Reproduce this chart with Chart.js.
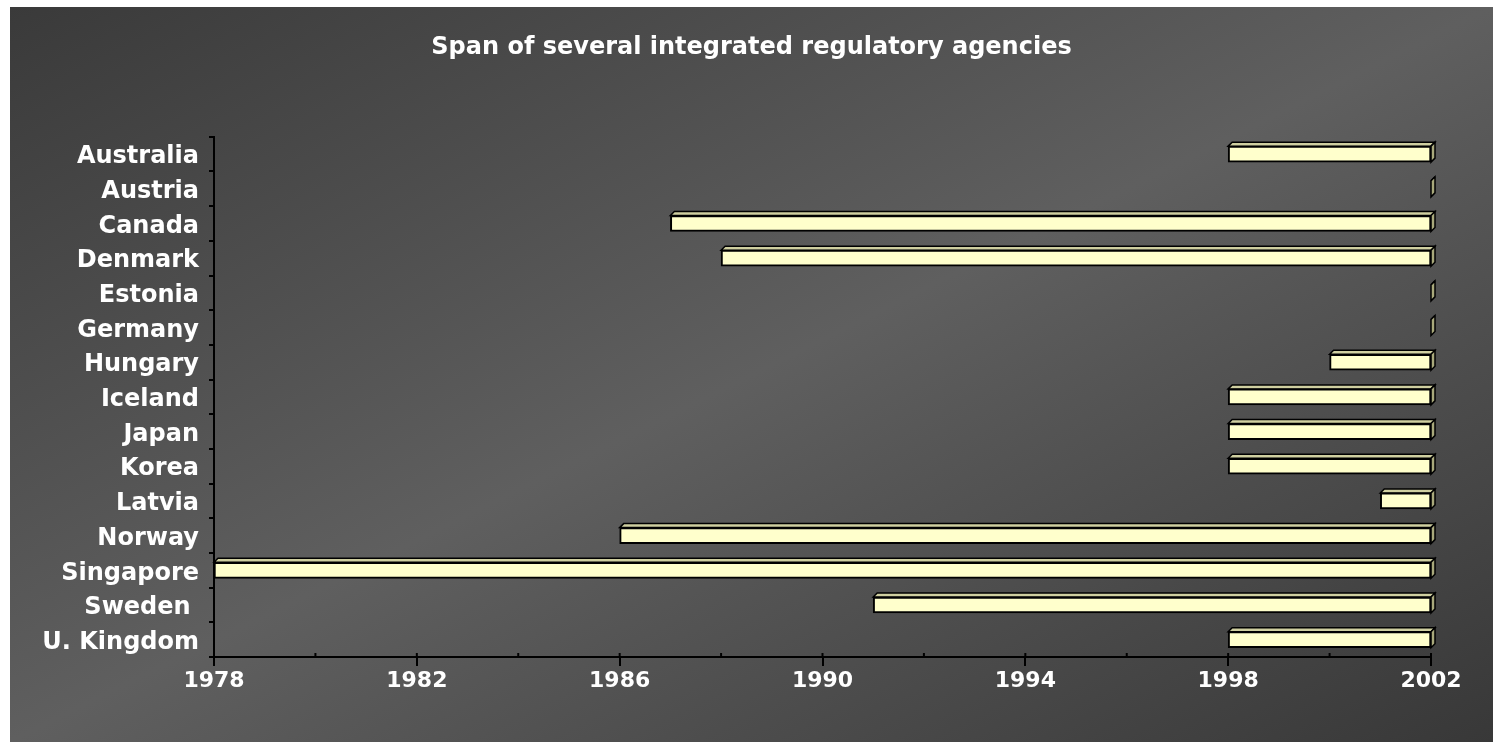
<!DOCTYPE html>
<html>
<head>
<meta charset="utf-8">
<script src="https://cdn.jsdelivr.net/npm/chart.js@4/dist/chart.umd.min.js"></script>
<style>
  body { margin: 0; background: #fff; }
  #wrap { width: 1493px; height: 742px; position: relative; }
</style>
</head>
<body>
<div id="wrap"><canvas id="myChart"></canvas></div>
<script>
// Data
const countries = ['Australia', 'Austria', 'Canada', 'Denmark', 'Estonia', 'Germany', 'Hungary', 'Iceland', 'Japan', 'Korea', 'Latvia', 'Norway', 'Singapore', 'Sweden ', 'U. Kingdom'];
const startYear = [1998, 2002, 1987, 1988, 2002, 2002, 2000, 1998, 1998, 1998, 2001, 1986, 1978, 1991, 1998];
const endYear = [2002, 2002, 2002, 2002, 2002, 2002, 2002, 2002, 2002, 2002, 2002, 2002, 2002, 2002, 2002];
const yearMin = 1978;
const yearMax = 2002;

const spans = [];
for (let i = 0; i < countries.length; i++) {
    spans.push([startYear[i], endYear[i]]);
}

const FONT = '"DejaVu Sans", sans-serif';

// dark panel, light band running from top-right to bottom-left
const panelBg = {
    id: 'panelBg',
    beforeDraw(chart) {
        const c = chart.ctx;
        const w = chart.width, h = chart.height;
        const pw = w - 10, ph = h - 7;
        const cx = 10 + pw / 2, cy = 7 + ph / 2;
        const len = Math.sqrt(pw * pw + ph * ph);
        const ux = ph / len, uy = pw / len;
        const half = (pw / 2) * ux + (ph / 2) * uy;
        c.save();
        c.fillStyle = '#fff';
        c.fillRect(0, 0, w, h);
        const g = c.createLinearGradient(cx - ux * half, cy - uy * half, cx + ux * half, cy + uy * half);
        g.addColorStop(0, '#3a3a3a');
        g.addColorStop(0.5, '#5f5f5f');
        g.addColorStop(1, '#383838');
        c.fillStyle = g;
        c.fillRect(10, 7, pw, ph);
        c.restore();
    }
};

// top and side faces so the bars look like 3d slabs
const bar3d = {
    id: 'bar3d',
    beforeDatasetsDraw(chart) {
        const c = chart.ctx;
        const d = 4;
        const meta = chart.getDatasetMeta(0);
        c.save();
        c.lineWidth = 1.5;
        c.strokeStyle = '#000';
        meta.data.forEach(bar => {
            const left = Math.min(bar.x, bar.base);
            const right = Math.max(bar.x, bar.base);
            const top = bar.y - bar.height / 2;
            const bottom = bar.y + bar.height / 2;
            // top face
            c.beginPath();
            c.moveTo(left, top);
            c.lineTo(left + d, top - d);
            c.lineTo(right + d, top - d);
            c.lineTo(right, top);
            c.closePath();
            c.fillStyle = '#cfcfa0';
            c.fill();
            c.stroke();
            // side face
            c.beginPath();
            c.moveTo(right, top);
            c.lineTo(right + d, top - d);
            c.lineTo(right + d, bottom - d);
            c.lineTo(right, bottom);
            c.closePath();
            c.fillStyle = '#a9a97c';
            c.fill();
            c.stroke();
        });
        c.restore();
    }
};

// short inside ticks on the year axis (every 2 years)
const innerTicks = {
    id: 'innerTicks',
    afterDraw(chart) {
        const c = chart.ctx;
        const xs = chart.scales.x;
        c.save();
        c.strokeStyle = '#000';
        c.lineWidth = 2;
        xs.ticks.forEach(t => {
            const px = xs.getPixelForValue(t.value);
            c.beginPath();
            c.moveTo(px, xs.top - 4);
            c.lineTo(px, xs.top);
            c.stroke();
        });
        c.restore();
    }
};

const ctx = document.getElementById('myChart').getContext('2d');
const myChart = new Chart(ctx, {
    type: 'bar',
    data: {
        labels: countries,
        datasets: [{
            label: 'span',
            data: spans,
            backgroundColor: '#ffffcc',
            borderColor: '#000',
            borderWidth: 2,
            borderSkipped: false,
            barThickness: 16,
            clip: false
        }]
    },
    options: {
        indexAxis: 'y',
        responsive: true,
        maintainAspectRatio: false,
        animation: false,
        layout: {
            padding: { left: 10, top: 7, right: 0, bottom: 0 }
        },
        plugins: {
            legend: { display: false },
            tooltip: { enabled: false },
            title: {
                display: true,
                text: 'Span of several integrated regulatory agencies',
                color: '#fff',
                font: { family: FONT, size: 24, weight: 'bold' },
                padding: { top: 26, bottom: 75 }
            }
        },
        scales: {
            x: {
                type: 'linear',
                min: yearMin,
                max: yearMax,
                afterFit(scale) {
                    scale.height = 85;
                    scale.paddingRight = 62;
                },
                ticks: {
                    stepSize: 2,
                    color: '#fff',
                    padding: 2,
                    font: { family: FONT, size: 22, weight: 'bold' },
                    callback: v => ((v - yearMin) % 4 === 0 ? String(v) : '')
                },
                grid: {
                    drawOnChartArea: false,
                    tickLength: 9,
                    lineWidth: 2,
                    color: c => ((c.tick && (c.tick.value - yearMin) % 4 === 0) ? '#000' : 'rgba(0,0,0,0)')
                },
                border: { display: true, color: '#000', width: 2 }
            },
            y: {
                afterFit(scale) { scale.width = 204; },
                ticks: {
                    color: '#fff',
                    padding: 10,
                    labelOffset: 3,
                    font: { family: FONT, size: 24, weight: 'bold' }
                },
                grid: {
                    offset: true,
                    drawOnChartArea: false,
                    tickLength: 5,
                    lineWidth: 2,
                    color: '#000'
                },
                border: { display: true, color: '#000', width: 2 }
            }
        }
    },
    plugins: [panelBg, bar3d, innerTicks]
});
</script>
</body>
</html>
